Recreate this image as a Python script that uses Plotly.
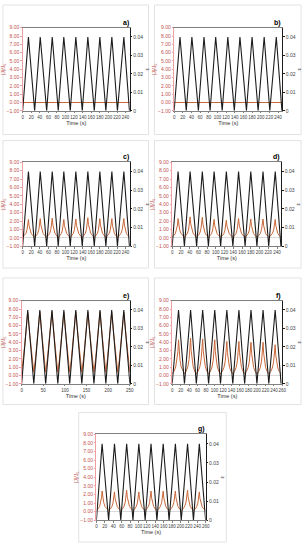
import plotly.graph_objects as go

W, H = 308, 550

# ---------------- data ----------------
panel_labels = ["a)", "b)", "c)", "d)", "e)", "f)", "g)"]

# times of strain minima / maxima (s)
troughs_a = [0, 28, 56, 83, 111, 139, 167, 194, 221, 249]
peaks_a = [13.5, 41, 69, 96, 124, 152, 180, 208, 236]
troughs_e = [0, 28, 55.5, 83.5, 111, 139, 167, 194.5, 222, 250]
peaks_e = [14, 42, 70, 97.5, 125, 153, 181, 208, 236]
troughs_f = [0, 29, 57, 86, 114, 143, 171, 200, 228, 257]
peaks_f = [15, 43.5, 72, 100.5, 129, 157.5, 186, 214.5, 243]
troughs_g = [0, 29, 58, 87, 116, 144, 173, 202, 231, 260]
peaks_g = [13.5, 43, 72, 101, 130, 159, 188, 217, 245]

strain_min = 0.0
strain_max = 0.04

# |J|/J_L peak values per cycle and minimum values
red_peaks_a = [0, 0, 0, 0, 0, 0, 0, 0, 0]
red_min_a = 0.0
red_peaks_b = [0, 0, 0, 0, 0, 0, 0, 0, 0]
red_min_b = 0.0
red_peaks_c = [2.2, 2.3, 2.35, 2.2, 2.25, 2.4, 2.3, 2.3, 2.3]
red_min_c = 0.1
red_peaks_d = [2.3, 2.5, 2.45, 2.2, 2.1, 2.3, 2.25, 2.25, 2.2]
red_min_d = 0.1
red_peaks_e = [7.6, 7.7, 7.7, 7.6, 7.7, 7.6, 7.7, 7.6, 7.6]
red_min_e = 0.4
red_peaks_f = [4.3, 4.5, 4.4, 4.3, 4.1, 4.1, 4.0, 4.0, 3.7]
red_min_f = 0.2
red_peaks_g = [2.4, 2.3, 2.5, 2.3, 2.4, 2.4, 2.4, 2.5, 2.3]
red_min_g = 0.15

# shape of one rising half-cycle of |J|/J_L (fraction of half-cycle, fraction of amplitude)
cusp_pos = [0, 0.3, 0.55, 0.75, 0.9, 1.0]
cusp_val = [0, 0.08, 0.2, 0.4, 0.65, 1.0]
lin_pos = [0, 0.25, 0.5, 0.75, 1.0]
lin_val = [0, 0.2, 0.45, 0.72, 1.0]

ticks_20_240 = [0, 20, 40, 60, 80, 100, 120, 140, 160, 180, 200, 220, 240]
ticks_50_250 = [0, 50, 100, 150, 200, 250]
ticks_20_260 = [0, 20, 40, 60, 80, 100, 120, 140, 160, 180, 200, 220, 240, 260]
left_ticks = [-1, 0, 1, 2, 3, 4, 5, 6, 7, 8, 9]
right_ticks = [0, 0.01, 0.02, 0.03, 0.04]
right_ticktext = ["0", "0.01", "0.02", "0.03", "0.04"]

x_title = "Time (s)"
left_title = "|J|/J<sub>L</sub>"
right_title = "ε"

# ---------------- layout geometry (pixels) ----------------
panels = [
    dict(box=(2, 2, 150, 133), plot=(22, 131, 25, 109), xr=[0, 250], xt=ticks_20_240,
         tr=troughs_a, pk=peaks_a, rp=red_peaks_a, rm=red_min_a, shape="cusp"),
    dict(box=(156, 2, 305, 133), plot=(176, 286, 25, 109), xr=[0, 250], xt=ticks_20_240,
         tr=troughs_a, pk=peaks_a, rp=red_peaks_b, rm=red_min_b, shape="cusp"),
    dict(box=(2, 139, 150, 268), plot=(22, 131, 161, 246), xr=[0, 250], xt=ticks_20_240,
         tr=troughs_a, pk=peaks_a, rp=red_peaks_c, rm=red_min_c, shape="cusp"),
    dict(box=(156, 139, 305, 268), plot=(174, 285, 161, 246), xr=[0, 250], xt=ticks_20_240,
         tr=troughs_a, pk=peaks_a, rp=red_peaks_d, rm=red_min_d, shape="cusp"),
    dict(box=(2, 278, 150, 406), plot=(21, 131, 301, 385), xr=[0, 250], xt=ticks_50_250,
         tr=troughs_e, pk=peaks_e, rp=red_peaks_e, rm=red_min_e, shape="lin"),
    dict(box=(156, 278, 305, 406), plot=(174, 286, 301, 385), xr=[0, 260], xt=ticks_20_260,
         tr=troughs_f, pk=peaks_f, rp=red_peaks_f, rm=red_min_f, shape="cusp"),
    dict(box=(79, 414, 229, 545), plot=(97, 208, 436, 523), xr=[0, 260], xt=ticks_20_260,
         tr=troughs_g, pk=peaks_g, rp=red_peaks_g, rm=red_min_g, shape="cusp"),
]

BLACK = "#1c1c1c"
RED = "#c8683a"
LEFTC = "#c0504d"
FONT = "Liberation Sans, Arial, sans-serif"


def fx(px):
    return px / W


def fy(py):
    return 1 - py / H


fig = go.Figure()
layout = dict(width=W, height=H, margin=dict(l=0, r=0, t=0, b=0),
              paper_bgcolor="white", plot_bgcolor="white", showlegend=False,
              font=dict(family=FONT, size=5, color="#404040"),
              shapes=[], annotations=[])

for i, p in enumerate(panels, start=1):
    xa = "x" if i == 1 else f"x{i}"
    yl = f"y{2*i-1}" if i > 1 else "y"
    yr = f"y{2*i}"
    xkey = "xaxis" if i == 1 else f"xaxis{i}"
    ylkey = "yaxis" if i == 1 else f"yaxis{2*i-1}"
    yrkey = f"yaxis{2*i}"

    # black strain triangle
    bx, by = [], []
    for k in range(len(p["pk"])):
        bx += [p["tr"][k], p["pk"][k]]
        by += [strain_min, strain_max]
    bx.append(p["tr"][-1])
    by.append(strain_min)

    # red |J|/J_L curve
    pos = cusp_pos if p["shape"] == "cusp" else lin_pos
    val = cusp_val if p["shape"] == "cusp" else lin_val
    rx, ry = [], []
    for k in range(len(p["pk"])):
        t0, t1, t2 = p["tr"][k], p["pk"][k], p["tr"][k + 1]
        amp = p["rp"][k] - p["rm"]
        for f, v in zip(pos, val):
            rx.append(t0 + f * (t1 - t0))
            ry.append(p["rm"] + v * amp)
        for f, v in zip(reversed(pos[:-1]), reversed(val[:-1])):
            rx.append(t2 - f * (t2 - t1))
            ry.append(p["rm"] + v * amp)

    fig.add_trace(go.Scatter(x=bx, y=by, xaxis=xa, yaxis=yr, mode="lines",
                             line=dict(color=BLACK, width=1.1), hoverinfo="skip"))
    fig.add_trace(go.Scatter(x=rx, y=ry, xaxis=xa, yaxis=yl, mode="lines",
                             line=dict(color=RED, width=1.0), hoverinfo="skip"))

    x0, x1, y0, y1 = p["plot"]
    layout[xkey] = dict(domain=[fx(x0), fx(x1)], anchor=yl, range=p["xr"],
                        tickvals=p["xt"], tickangle=0, showgrid=False, zeroline=False,
                        showline=True, linecolor="#808080", linewidth=0.8, mirror=True,
                        ticks="outside", ticklen=1.5, tickcolor="#808080",
                        tickfont=dict(size=4.5, color="#404040"),
                        title=dict(text=x_title, standoff=2,
                                   font=dict(size=5.5, color="#303030")))
    layout[ylkey] = dict(domain=[fy(y1), fy(y0)], anchor=xa, range=[-1, 9],
                         tickvals=left_ticks, tickformat=".2f", showgrid=False,
                         zeroline=True, zerolinecolor="#d9d9d9", zerolinewidth=0.8,
                         showline=True, linecolor="#f0a0a0", linewidth=0.8,
                         ticks="outside", ticklen=1.5, tickcolor="#f0a0a0",
                         tickfont=dict(size=5, color=LEFTC),
                         title=dict(text=left_title, standoff=1,
                                    font=dict(size=5.5, color=LEFTC)))
    layout[yrkey] = dict(anchor=xa, overlaying=yl, side="right", range=[0, 0.045],
                         tickvals=right_ticks, ticktext=right_ticktext, showgrid=False,
                         zeroline=False, showline=True, linecolor=BLACK, linewidth=0.8,
                         ticks="outside", ticklen=1.5, tickcolor=BLACK,
                         tickfont=dict(size=5, color="#404040"),
                         title=dict(text=right_title, standoff=2,
                                    font=dict(size=5.5, color="#303030")))

    bx0, by0, bx1, by1 = p["box"]
    layout["shapes"].append(dict(type="rect", xref="paper", yref="paper",
                                 x0=fx(bx0), x1=fx(bx1), y0=fy(by1), y1=fy(by0),
                                 line=dict(color="#e2e2e2", width=1), layer="below"))
    layout["annotations"].append(
        dict(text=f"<b>{panel_labels[i-1]}</b>", xref="paper", yref="paper",
             x=fx(x1 + 1), y=fy(y0 + 1), xanchor="right", yanchor="bottom",
             showarrow=False, font=dict(size=7, color="black")))

fig.update_layout(**layout)
fig.write_html("out.html", config={"displayModeBar": False},
               post_script="document.body.style.margin='0';document.body.style.overflow='hidden';")
